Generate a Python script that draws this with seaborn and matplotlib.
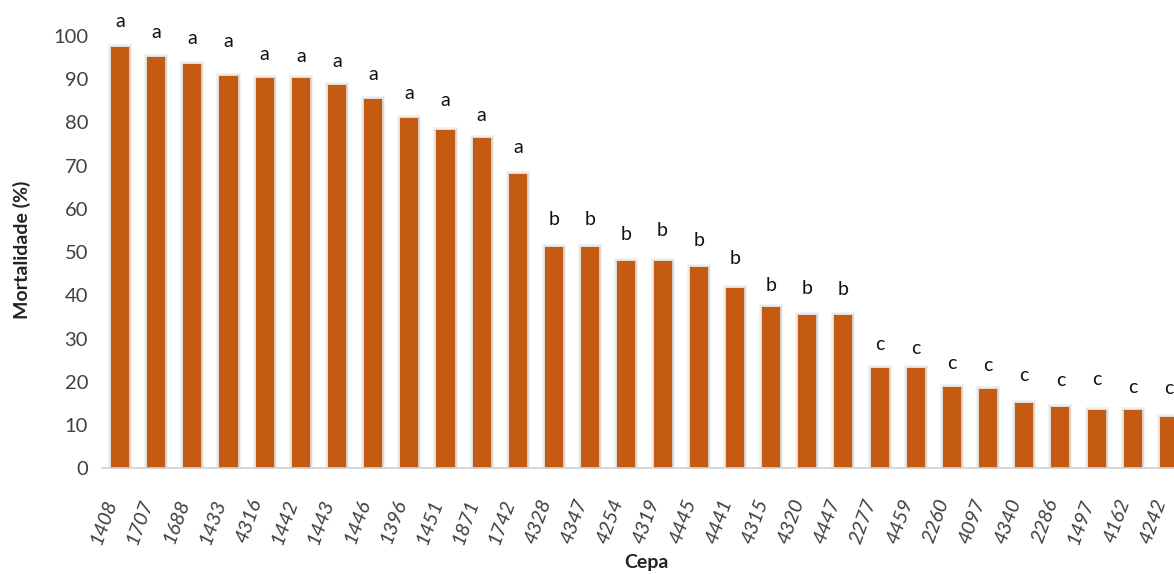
import matplotlib
matplotlib.use("Agg")
import matplotlib.pyplot as plt
import matplotlib.patheffects as pe
import seaborn as sns
import pandas as pd

cepas = ["1408", "1707", "1688", "1433", "4316", "1442", "1443", "1446", "1396", "1451",
         "1871", "1742", "4328", "4347", "4254", "4319", "4445", "4441", "4315", "4320",
         "4447", "2277", "4459", "2260", "4097", "4340", "2286", "1497", "4162", "4242"]
mortalidade = [97.5, 95.1, 93.5, 90.7, 90.3, 90.3, 88.7, 85.4, 81.0, 78.2,
               76.3, 68.2, 51.3, 51.3, 48.0, 48.0, 46.5, 41.7, 37.3, 35.6,
               35.6, 23.2, 23.2, 18.8, 18.3, 15.1, 14.3, 13.5, 13.5, 11.9]
letras = ["a"] * 12 + ["b"] * 9 + ["c"] * 9
letra_y = [103.3, 100.8, 99.5, 98.7, 95.8, 95.2, 94.2, 91.0, 86.8, 85.2,
           81.7, 74.2, 57.5, 57.5, 54.0, 55.0, 52.7, 48.6, 42.2, 41.7,
           41.3, 28.6, 27.8, 24.3, 23.9, 21.5, 20.3, 20.6, 18.7, 18.4]
yticks = list(range(0, 101, 10))

df = pd.DataFrame({"Cepa": cepas, "Mortalidade": mortalidade})

sns.set_theme(style="white")
plt.rcParams["font.family"] = ["Lato", "DejaVu Sans"]

fig = plt.figure(figsize=(11.74, 5.74), dpi=100)
ax = fig.add_axes([0.0868, 0.1838, 0.9243, 0.7535])

sns.barplot(data=df, x="Cepa", y="Mortalidade", order=cepas, color="#C55A11",
            saturation=1, width=0.5, ax=ax, edgecolor="none")
for p in ax.patches:
    p.set_path_effects([pe.Stroke(linewidth=4, foreground="#a0a0a0", alpha=0.18),
                        pe.Stroke(linewidth=2, foreground="#a0a0a0", alpha=0.25),
                        pe.Normal()])

for i, (lt, ly) in enumerate(zip(letras, letra_y)):
    ax.text(i, ly, lt, ha="center", va="center", fontsize=14, color="#111111",
            clip_on=False)

ax.set_ylim(0, 100)
ax.set_xlim(-0.5, len(cepas) - 0.5)
ax.set_yticks(yticks)
ax.set_yticklabels([str(t) for t in yticks], fontsize=14.5, color="#404040")
ax.tick_params(axis="y", length=0, pad=10)
ax.tick_params(axis="x", length=0, pad=20)
ax.set_xticks(range(len(cepas)))
ax.set_xticklabels(cepas, rotation=70, ha="right", rotation_mode="default",
                   fontsize=14.5, style="italic", color="#404040")

for s in ["top", "right", "left"]:
    ax.spines[s].set_visible(False)
ax.spines["bottom"].set_color("#d0d0d0")
ax.spines["bottom"].set_linewidth(1.2)

ax.set_xlabel("")
ax.set_ylabel("")
fig.text(0.551, 0.02, "Cepa", ha="center", va="center", fontsize=14,
         fontweight="bold", color="#222222")
fig.text(0.019, 0.565, "Mortalidade (%)", ha="center", va="center", rotation=90,
         fontsize=14, fontweight="bold", color="#222222")

fig.savefig("out.png", dpi=100)
